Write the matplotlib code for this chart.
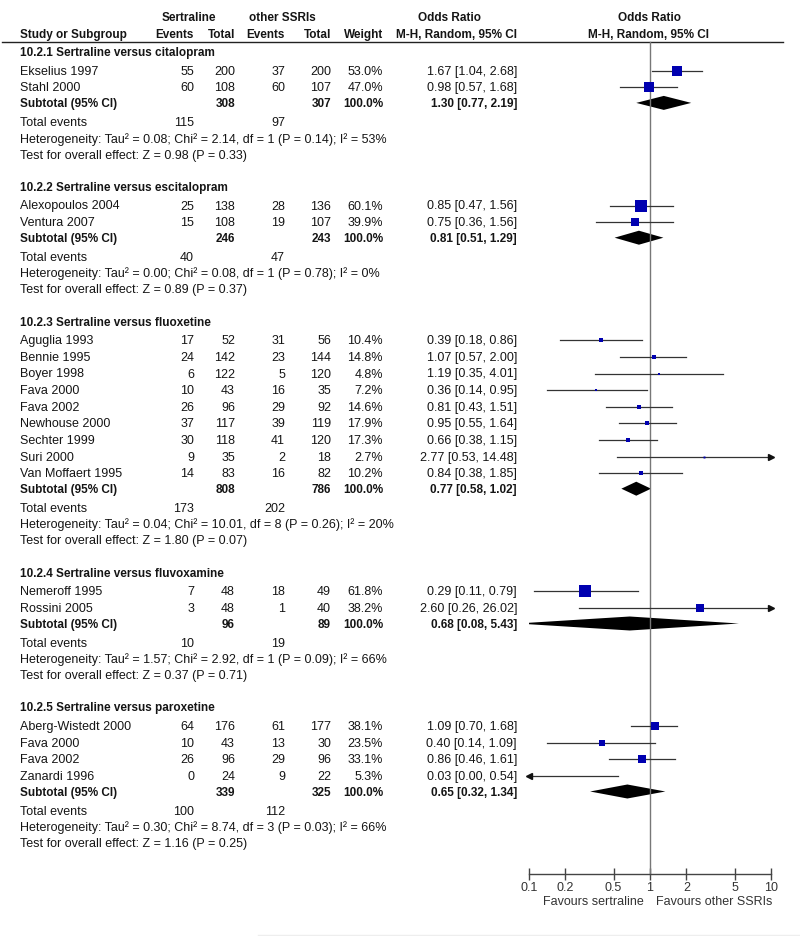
import matplotlib
matplotlib.use('Agg')
import matplotlib.pyplot as plt
from matplotlib.ticker import FixedLocator, FixedFormatter, NullLocator

plt.rcParams['font.family'] = ['Liberation Sans', 'DejaVu Sans']
plt.rcParams['font.size'] = 9

# ---- data ----
group_titles = ['10.2.1 Sertraline versus citalopram',
                '10.2.2 Sertraline versus escitalopram',
                '10.2.3 Sertraline versus fluoxetine',
                '10.2.4 Sertraline versus fluvoxamine',
                '10.2.5 Sertraline versus paroxetine']

study_names = [['Ekselius 1997', 'Stahl 2000'],
               ['Alexopoulos 2004', 'Ventura 2007'],
               ['Aguglia 1993', 'Bennie 1995', 'Boyer 1998', 'Fava 2000', 'Fava 2002',
                'Newhouse 2000', 'Sechter 1999', 'Suri 2000', 'Van Moffaert 1995'],
               ['Nemeroff 1995', 'Rossini 2005'],
               ['Aberg-Wistedt 2000', 'Fava 2000', 'Fava 2002', 'Zanardi 1996']]

sert_events = [[55, 60], [25, 15], [17, 24, 6, 10, 26, 37, 30, 9, 14], [7, 3], [64, 10, 26, 0]]
sert_total = [[200, 108], [138, 108], [52, 142, 122, 43, 96, 117, 118, 35, 83], [48, 48], [176, 43, 96, 24]]
ssri_events = [[37, 60], [28, 19], [31, 23, 5, 16, 29, 39, 41, 2, 16], [18, 1], [61, 13, 29, 9]]
ssri_total = [[200, 107], [136, 107], [56, 144, 120, 35, 92, 119, 120, 18, 82], [49, 40], [177, 30, 96, 22]]
weights = [[53.0, 47.0], [60.1, 39.9], [10.4, 14.8, 4.8, 7.2, 14.6, 17.9, 17.3, 2.7, 10.2],
           [61.8, 38.2], [38.1, 23.5, 33.1, 5.3]]
odds = [[1.67, 0.98], [0.85, 0.75], [0.39, 1.07, 1.19, 0.36, 0.81, 0.95, 0.66, 2.77, 0.84],
        [0.29, 2.60], [1.09, 0.40, 0.86, 0.03]]
ci_low = [[1.04, 0.57], [0.47, 0.36], [0.18, 0.57, 0.35, 0.14, 0.43, 0.55, 0.38, 0.53, 0.38],
          [0.11, 0.26], [0.70, 0.14, 0.46, 0.00]]
ci_high = [[2.68, 1.68], [1.56, 1.56], [0.86, 2.00, 4.01, 0.95, 1.51, 1.64, 1.15, 14.48, 1.85],
           [0.79, 26.02], [1.68, 1.09, 1.61, 0.54]]

sub_sert_total = [308, 246, 808, 96, 339]
sub_ssri_total = [307, 243, 786, 89, 325]
sub_odds = [1.30, 0.81, 0.77, 0.68, 0.65]
sub_low = [0.77, 0.51, 0.58, 0.08, 0.32]
sub_high = [2.19, 1.29, 1.02, 5.43, 1.34]
events_sert = [115, 40, 173, 10, 100]
events_ssri = [97, 47, 202, 19, 112]
tau2 = ['0.08', '0.00', '0.04', '1.57', '0.30']
chi2 = ['2.14', '0.08', '10.01', '2.92', '8.74']
dfs = [1, 1, 8, 1, 3]
het_p = ['0.14', '0.78', '0.26', '0.09', '0.03']
i2 = [53, 0, 20, 66, 66]
z_val = ['0.98', '0.89', '1.80', '0.37', '1.16']
z_p = ['0.33', '0.37', '0.07', '0.71', '0.25']

ticks = [0.1, 0.2, 0.5, 1, 2, 5, 10]
tick_labels = ['0.1', '0.2', '0.5', '1', '2', '5', '10']

# ---- figure set up in pixel units ----
W, H = 800, 937
fig = plt.figure(figsize=(W / 100, H / 100), dpi=100)
ax = fig.add_axes([0, 0, 1, 1])
ax.set_xlim(0, W)
ax.set_ylim(H, 0)
ax.axis('off')

fx0, fx1 = 529, 771   # where 0.1 and 10 sit
fa = fig.add_axes([fx0 / W, 0, (fx1 - fx0) / W, 1])
fa.set_xscale('log')
fa.set_xlim(0.1, 10)
fa.set_ylim(H, 0)
fa.patch.set_visible(False)
for s in ['top', 'left', 'right']:
    fa.spines[s].set_visible(False)
fa.spines['bottom'].set_position(('data', 875))
fa.spines['bottom'].set_color('#444')
fa.spines['bottom'].set_linewidth(1)
fa.set_yticks([])
fa.xaxis.set_major_locator(FixedLocator(ticks))
fa.xaxis.set_major_formatter(FixedFormatter(tick_labels))
fa.xaxis.set_minor_locator(NullLocator())
fa.tick_params(axis='x', direction='inout', length=8, width=1, pad=1,
               labelsize=9, colors='#444', labelcolor='#333')

txt = '#151515'
blue = '#0000b0'
bsize = 8.5   # bold text runs a bit narrower in the original
col_se, col_st, col_oe, col_ot, col_w, col_or = 194, 235, 285, 331, 383, 517

# header
ax.text(189, 18, 'Sertraline', ha='center', va='center', weight='bold', size=bsize, color=txt)
ax.text(282, 18, 'other SSRIs', ha='center', va='center', weight='bold', size=bsize, color=txt)
ax.text(20, 35, 'Study or Subgroup', ha='left', va='center', weight='bold', size=bsize, color=txt)
for x, lab in zip([col_se, col_st, col_oe, col_ot, col_w],
                  ['Events', 'Total', 'Events', 'Total', 'Weight']):
    ax.text(x, 35, lab, ha='right', va='center', weight='bold', size=bsize, color=txt)
ax.text(450, 18, 'Odds Ratio', ha='center', va='center', weight='bold', size=bsize, color=txt)
ax.text(col_or, 35, 'M-H, Random, 95% CI', ha='right', va='center', weight='bold', size=bsize, color=txt)
ax.text(649, 18, 'Odds Ratio', ha='center', va='center', weight='bold', size=bsize, color=txt)
ax.text(649, 35, 'M-H, Random, 95% CI', ha='center', va='center', weight='bold', size=bsize, color=txt)
ax.plot([2, 783], [43, 43], color='#222', lw=1)

fa.plot([1, 1], [43, 875], color='#777', lw=1, clip_on=False)


def fmt_or(o, lo, hi):
    return '%.2f [%.2f, %.2f]' % (o, lo, hi)


y = 53.0
for g in range(len(group_titles)):
    ax.text(20, y, group_titles[g], ha='left', va='center', weight='bold', size=bsize, color=txt)
    y += 18.7
    for i, name in enumerate(study_names[g]):
        ax.text(20, y, name, ha='left', va='center', color=txt)
        ax.text(col_se, y, str(sert_events[g][i]), ha='right', va='center', color=txt)
        ax.text(col_st, y, str(sert_total[g][i]), ha='right', va='center', color=txt)
        ax.text(col_oe, y, str(ssri_events[g][i]), ha='right', va='center', color=txt)
        ax.text(col_ot, y, str(ssri_total[g][i]), ha='right', va='center', color=txt)
        ax.text(col_w, y, '%.1f%%' % weights[g][i], ha='right', va='center', color=txt)
        ax.text(col_or, y, fmt_or(odds[g][i], ci_low[g][i], ci_high[g][i]),
                ha='right', va='center', color=txt)
        # whisker, clipped to the axis range, with arrows when it runs off
        lo = max(ci_low[g][i], 0.1)
        hi = min(ci_high[g][i], 10)
        fa.plot([lo, hi], [y, y], color='#333', lw=0.9)
        if ci_low[g][i] < 0.1:
            fa.plot([0.1], [y], marker='<', color='#111', ms=4.5, clip_on=False)
        if ci_high[g][i] > 10:
            fa.plot([10], [y], marker='>', color='#111', ms=4.5, clip_on=False)
        if 0.1 <= odds[g][i] <= 10:
            side = 1.5 + 0.17 * weights[g][i]
            fa.plot([odds[g][i]], [y], marker='s', ms=side * 0.72, color=blue,
                    markeredgewidth=0)
        y += 16.6
    y -= 1.0
    ax.text(20, y, 'Subtotal (95% CI)', ha='left', va='center', weight='bold', size=bsize, color=txt)
    ax.text(col_st, y, str(sub_sert_total[g]), ha='right', va='center', weight='bold', size=bsize, color=txt)
    ax.text(col_ot, y, str(sub_ssri_total[g]), ha='right', va='center', weight='bold', size=bsize, color=txt)
    ax.text(col_w, y, '100.0%', ha='right', va='center', weight='bold', size=bsize, color=txt)
    ax.text(col_or, y, fmt_or(sub_odds[g], sub_low[g], sub_high[g]),
            ha='right', va='center', weight='bold', size=bsize, color=txt)
    h = 7
    fa.fill([sub_low[g], sub_odds[g], sub_high[g], sub_odds[g]],
            [y, y - h, y, y + h], color='black', lw=0)
    y += 19
    ax.text(20, y, 'Total events', ha='left', va='center', color=txt)
    ax.text(col_se, y, str(events_sert[g]), ha='right', va='center', color=txt)
    ax.text(col_oe, y, str(events_ssri[g]), ha='right', va='center', color=txt)
    y += 16.3
    ax.text(20, y, 'Heterogeneity: Tau\u00b2 = %s; Chi\u00b2 = %s, df = %d (P = %s); I\u00b2 = %d%%'
            % (tau2[g], chi2[g], dfs[g], het_p[g], i2[g]), ha='left', va='center', color=txt)
    y += 16.3
    ax.text(20, y, 'Test for overall effect: Z = %s (P = %s)' % (z_val[g], z_p[g]),
            ha='left', va='center', color=txt)
    y += 32.3

ax.text(644, 902, 'Favours sertraline', ha='right', va='center', color='#333')
ax.text(656, 902, 'Favours other SSRIs', ha='left', va='center', color='#333')
ax.plot([258, 800], [935.5, 935.5], color='#eeeeee', lw=1)

fig.savefig('out.png', dpi=100)
